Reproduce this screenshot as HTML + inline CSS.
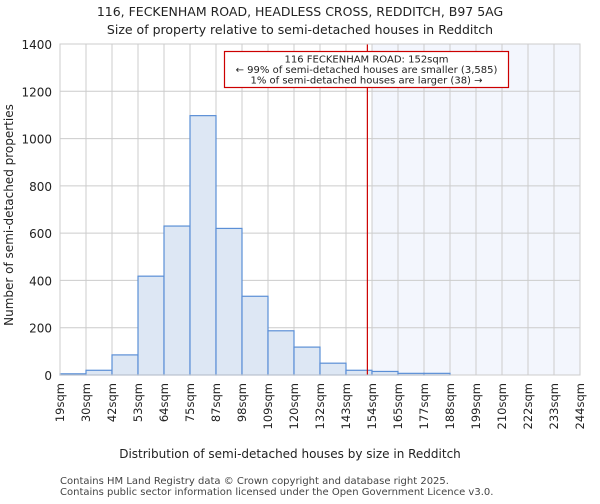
<!DOCTYPE html>
<html><head><meta charset="utf-8"><style>
body{margin:0;background:#fff;font-family:"DejaVu Sans","Liberation Sans",sans-serif}
</style></head><body>
<svg width="600" height="500" xmlns="http://www.w3.org/2000/svg" font-family="DejaVu Sans, Liberation Sans, sans-serif">
<text x="300" y="16" text-anchor="middle" font-size="12.5" fill="#222">116, FECKENHAM ROAD, HEADLESS CROSS, REDDITCH, B97 5AG</text>
<text x="300" y="34" text-anchor="middle" font-size="12.5" fill="#222">Size of property relative to semi-detached houses in Redditch</text>
<g id="plot"></g>
<text x="290" y="458" text-anchor="middle" font-size="12" fill="#222">Distribution of semi-detached houses by size in Redditch</text>
<text transform="translate(13,215) rotate(-90)" text-anchor="middle" font-size="12" fill="#222">Number of semi-detached properties</text>
<text x="60" y="484" font-size="10" fill="#444">Contains HM Land Registry data © Crown copyright and database right 2025.</text>
<text x="60" y="495" font-size="10" fill="#444">Contains public sector information licensed under the Open Government Licence v3.0.</text>
</svg>
<script>
const categories=["19sqm","30sqm","42sqm","53sqm","64sqm","75sqm","87sqm","98sqm","109sqm","120sqm","132sqm","143sqm","154sqm","165sqm","177sqm","188sqm","199sqm","210sqm","222sqm","233sqm","244sqm"];
const counts=[5,20,85,418,630,1097,620,333,187,118,50,20,15,7,7,0,0,0,0,0];
const yTicks=[0,200,400,600,800,1000,1200,1400];
const binStart=19, binWidth=11.25;
const propertySize=152;
const L=60,R=580,T=44,B=375,yMax=1400;
const n=counts.length, bw=(R-L)/n;
const xs=v=>L+(v-binStart)/binWidth*bw;
const xi=i=>L+i*bw;
const ys=v=>B-(v/yMax)*(B-T);
const g=document.getElementById('plot');
const NS="http://www.w3.org/2000/svg";
function mk(t,a){const e=document.createElementNS(NS,t);for(const k in a)e.setAttribute(k,a[k]);g.appendChild(e);return e;}
const shadeStart=Math.ceil((propertySize-binStart)/binWidth);
const sh=mk('rect',{x:xi(shadeStart),y:T,width:R-xi(shadeStart),height:B-T,fill:'#f3f6fd'});


yTicks.forEach(v=>{const l=mk('line',{x1:L,x2:R,y1:ys(v),y2:ys(v),stroke:'#ccc','stroke-width':1});


const t=mk('text',{x:L-8,y:ys(v)+5,'text-anchor':'end','font-size':'12',fill:'#222'});t.textContent=v;

});
categories.forEach((c,i)=>{const x=xi(i);const l=mk('line',{x1:x,x2:x,y1:T,y2:B,stroke:'#ccc','stroke-width':1});


const t=mk('text',{transform:`translate(${x+4},${B+8}) rotate(-90)`,'text-anchor':'end','font-size':'11.5',fill:'#222'});t.textContent=c;

});
counts.forEach((v,i)=>{if(v<=0)return;const r=mk('rect',{x:xi(i),y:ys(v),width:bw,height:B-ys(v),fill:'#dde7f4',stroke:'#5b8fd6','stroke-width':1.2});

});
const px=xs(propertySize);
const pl=mk('line',{x1:px,x2:px,y1:T,y2:B,stroke:'#c00','stroke-width':1.2});


const ab=mk('rect',{x:224.5,y:51.5,width:284,height:36,fill:'#fff',stroke:'#c00','stroke-width':1.2});


["116 FECKENHAM ROAD: 152sqm","← 99% of semi-detached houses are smaller (3,585)","1% of semi-detached houses are larger (38) →"].forEach((s,k)=>{
const t=mk('text',{x:366.5,y:62.5+k*10.5,'text-anchor':'middle','font-size':'10',fill:'#222'});t.textContent=s;

});
const ax=mk('rect',{x:L,y:T,width:R-L,height:B-T,fill:'none',stroke:'#ccc','stroke-width':1});


</script>
</body></html>
